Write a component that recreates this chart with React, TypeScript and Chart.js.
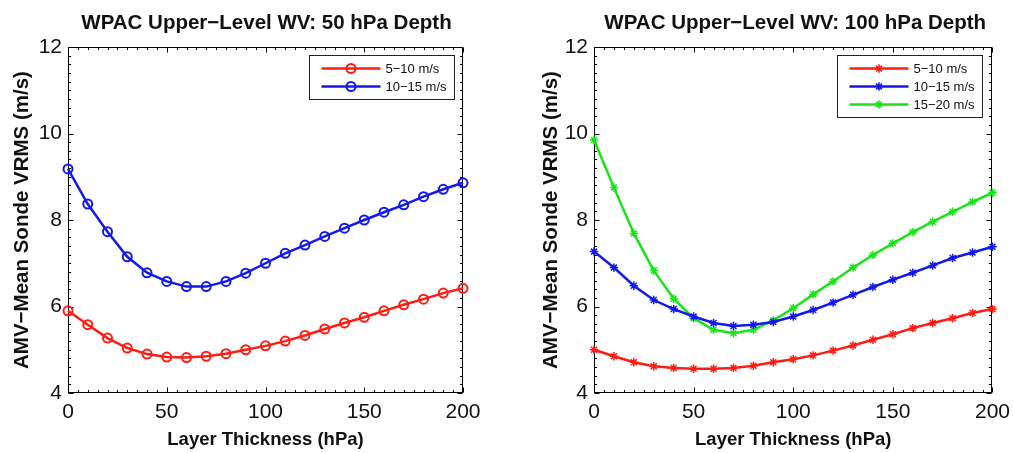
import React, { useEffect, useRef } from 'react';
import { Chart, registerables } from 'chart.js';

Chart.register(...registerables);

// ---------- data ----------
const thickness = [0, 10, 20, 30, 40, 50, 60, 70, 80, 90, 100, 110, 120, 130, 140, 150, 160, 170, 180, 190, 200];

const depth50_5to10 = [5.9, 5.58, 5.27, 5.04, 4.9, 4.83, 4.82, 4.85, 4.91, 5.0, 5.09, 5.2, 5.33, 5.48, 5.62, 5.75, 5.9, 6.04, 6.17, 6.31, 6.42];
const depth50_10to15 = [9.18, 8.37, 7.73, 7.15, 6.78, 6.58, 6.46, 6.46, 6.58, 6.77, 7.0, 7.23, 7.42, 7.62, 7.81, 8.0, 8.18, 8.35, 8.54, 8.71, 8.86];

const depth100_5to10 = [5.0, 4.85, 4.71, 4.62, 4.58, 4.56, 4.56, 4.58, 4.63, 4.71, 4.78, 4.87, 4.98, 5.1, 5.23, 5.36, 5.5, 5.62, 5.73, 5.85, 5.94];
const depth100_10to15 = [7.27, 6.9, 6.48, 6.15, 5.94, 5.77, 5.62, 5.55, 5.58, 5.64, 5.77, 5.92, 6.09, 6.27, 6.45, 6.62, 6.78, 6.95, 7.12, 7.25, 7.38];
const depth100_15to20 = [9.85, 8.75, 7.69, 6.83, 6.18, 5.73, 5.46, 5.38, 5.46, 5.68, 5.96, 6.28, 6.58, 6.9, 7.19, 7.46, 7.72, 7.96, 8.19, 8.42, 8.63];

const xTickValues = [0, 50, 100, 150, 200];
const yTickValues = [4, 6, 8, 10, 12];
const seriesLabels = ['5−10 m/s', '10−15 m/s', '15−20 m/s'];
const leftTitle = 'WPAC Upper−Level WV: 50 hPa Depth';
const rightTitle = 'WPAC Upper−Level WV: 100 hPa Depth';
const xAxisTitle = 'Layer Thickness (hPa)';
const yAxisTitle = 'AMV−Mean Sonde VRMS (m/s)';

// ---------- styles ----------
const FONT = "'Liberation Sans', Arial, Helvetica, sans-serif";
const RED = 'rgb(250,30,20)';
const BLUE = 'rgb(20,25,235)';
const GREEN = 'rgb(25,228,25)';

const framePlugin = {
  id: 'matlabFrame',
  beforeDatasetsDraw(chart: any, _args: any, opts: any) {
    const { ctx, chartArea: a } = chart;
    const xs = chart.scales.x;
    const ys = chart.scales.y;
    ctx.save();
    ctx.strokeStyle = '#000';
    ctx.lineWidth = 1;
    const L = Math.round(a.left) + 0.5;
    const R = Math.round(a.right) - 0.5;
    const T = Math.round(a.top) + 0.5;
    const B = Math.round(a.bottom) - 0.5;
    ctx.strokeRect(L, T, R - L, B - T);
    ctx.beginPath();
    for (let v = 0; v <= 200; v += 5) {
      const px = Math.round(xs.getPixelForValue(v)) + 0.5;
      const len = v % 50 === 0 ? 5 : 2.5;
      ctx.moveTo(px, B); ctx.lineTo(px, B - len);
      ctx.moveTo(px, T); ctx.lineTo(px, T + len);
    }
    for (let k = 0; k <= 40; k++) {
      const v = 4 + k * 0.2;
      const py = Math.round(ys.getPixelForValue(v)) + 0.5;
      const len = k % 10 === 0 ? 5 : 2.5;
      ctx.moveTo(L, py); ctx.lineTo(L + len, py);
      ctx.moveTo(R, py); ctx.lineTo(R - len, py);
    }
    ctx.stroke();
    ctx.fillStyle = '#111';
    ctx.font = `bold 20.5px ${FONT}`;
    ctx.textAlign = 'center';
    ctx.textBaseline = 'middle';
    ctx.fillText(opts.title, (a.left + a.right) / 2 + opts.titleShift, 23);
    ctx.restore();
  },
  afterDraw(chart: any, _args: any, opts: any) {
    const { ctx, chartArea: a } = chart;
    const ds = chart.data.datasets;
    const n = ds.length;
    const boxW = 145;
    const boxH = 26 + (n - 1) * 18;
    const bx = Math.round(a.right - opts.legendRight - boxW) + 0.5;
    const by = Math.round(a.top + 8) + 0.5;
    ctx.save();
    ctx.fillStyle = '#fff';
    ctx.fillRect(bx, by, boxW, boxH);
    ctx.strokeStyle = '#222';
    ctx.lineWidth = 1;
    ctx.strokeRect(bx, by, boxW, boxH);
    ds.forEach((d: any, i: number) => {
      const y = by + 13 + i * 18;
      ctx.strokeStyle = d.borderColor;
      ctx.lineWidth = 2.5;
      ctx.beginPath();
      ctx.moveTo(bx + 12, y);
      ctx.lineTo(bx + 71, y);
      ctx.stroke();
      const mx = bx + 41.5;
      ctx.lineWidth = d.pointBorderWidth;
      ctx.beginPath();
      if (d.pointStyle === 'circle') {
        ctx.arc(mx, y, d.pointRadius, 0, Math.PI * 2);
      } else {
        const r = d.pointRadius;
        ctx.moveTo(mx - r, y); ctx.lineTo(mx + r, y);
        ctx.moveTo(mx, y - r); ctx.lineTo(mx, y + r);
        const q = r * 0.707;
        ctx.moveTo(mx - q, y - q); ctx.lineTo(mx + q, y + q);
        ctx.moveTo(mx - q, y + q); ctx.lineTo(mx + q, y - q);
      }
      ctx.stroke();
      ctx.fillStyle = '#111';
      ctx.font = `13px ${FONT}`;
      ctx.textAlign = 'left';
      ctx.textBaseline = 'middle';
      ctx.fillText(d.label, bx + 76, y + 0.5);
    });
    ctx.restore();
  },
};

type Series = { label: string; values: number[]; color: string };

function makeConfig(series: Series[], marker: string, layout: any) {
  return {
    type: 'line',
    data: {
      datasets: series.map((s) => ({
        label: s.label,
        data: thickness.map((x, i) => ({ x, y: s.values[i] })),
        borderColor: s.color,
        backgroundColor: 'rgba(0,0,0,0)',
        borderWidth: 2.5,
        pointStyle: marker,
        pointRadius: marker === 'circle' ? 4.5 : 4.2,
        pointBorderWidth: marker === 'circle' ? 2 : 1.5,
        pointBorderColor: s.color,
        pointBackgroundColor: 'rgba(0,0,0,0)',
        tension: 0,
        clip: false,
      })),
    },
    options: {
      responsive: false,
      animation: false,
      devicePixelRatio: 1,
      layout: { padding: { left: layout.padLeft, right: layout.padRight, top: 47, bottom: 0 } },
      scales: {
        x: {
          type: 'linear',
          min: 0,
          max: 200,
          afterBuildTicks: (s: any) => { s.ticks = xTickValues.map((v) => ({ value: v })); },
          afterFit: (s: any) => { s.height = 60; },
          grid: { display: false, drawTicks: false },
          border: { display: false },
          ticks: { font: { family: FONT, size: 21 }, color: '#111', padding: 7, maxRotation: 0, autoSkip: false },
          title: {
            display: true,
            text: xAxisTitle,
            color: '#111',
            font: { family: FONT, size: 18.5, weight: 'bold' },
            padding: { top: 0, bottom: 2 },
          },
        },
        y: {
          type: 'linear',
          min: 4,
          max: 12,
          afterBuildTicks: (s: any) => { s.ticks = yTickValues.map((v) => ({ value: v })); },
          afterFit: (s: any) => { s.width = layout.yWidth; },
          grid: { display: false, drawTicks: false },
          border: { display: false },
          ticks: { font: { family: FONT, size: 21 }, color: '#111', padding: 6, autoSkip: false },
          title: {
            display: true,
            text: yAxisTitle,
            color: '#111',
            font: { family: FONT, size: 20.5, weight: 'bold' },
            padding: { top: 10, bottom: 0 },
          },
        },
      },
      plugins: {
        legend: { display: false },
        tooltip: { enabled: false },
        matlabFrame: { title: layout.title, titleShift: layout.titleShift, legendRight: layout.legendRight },
      },
    },
    plugins: [framePlugin],
  };
}

function Panel(props: { series: Series[]; marker: string; layout: any; left: number; width: number }) {
  const ref = useRef<HTMLCanvasElement | null>(null);
  useEffect(() => {
    if (!ref.current) return;
    const chart = new Chart(ref.current, makeConfig(props.series, props.marker, props.layout) as any);
    return () => chart.destroy();
  }, []);
  return (
    <canvas
      ref={ref}
      width={props.width}
      height={453}
      style={{ position: 'absolute', left: props.left, top: 0, width: props.width, height: 453 }}
    />
  );
}

export default function App() {
  const leftSeries: Series[] = [
    { label: seriesLabels[0], values: depth50_5to10, color: RED },
    { label: seriesLabels[1], values: depth50_10to15, color: BLUE },
  ];
  const rightSeries: Series[] = [
    { label: seriesLabels[0], values: depth100_5to10, color: RED },
    { label: seriesLabels[1], values: depth100_10to15, color: BLUE },
    { label: seriesLabels[2], values: depth100_15to20, color: GREEN },
  ];
  return (
    <div style={{ position: 'absolute', left: 0, top: 0, width: 1013, height: 453, background: '#fff', overflow: 'hidden' }}>
      <Panel
        series={leftSeries}
        marker="circle"
        left={0}
        width={506}
        layout={{ padLeft: 0, padRight: 43, yWidth: 68, title: leftTitle, titleShift: 1, legendRight: 9 }}
      />
      <Panel
        series={rightSeries}
        marker="star"
        left={506}
        width={511}
        layout={{ padLeft: 23, padRight: 20, yWidth: 65, title: rightTitle, titleShift: 2, legendRight: 10 }}
      />
    </div>
  );
}
